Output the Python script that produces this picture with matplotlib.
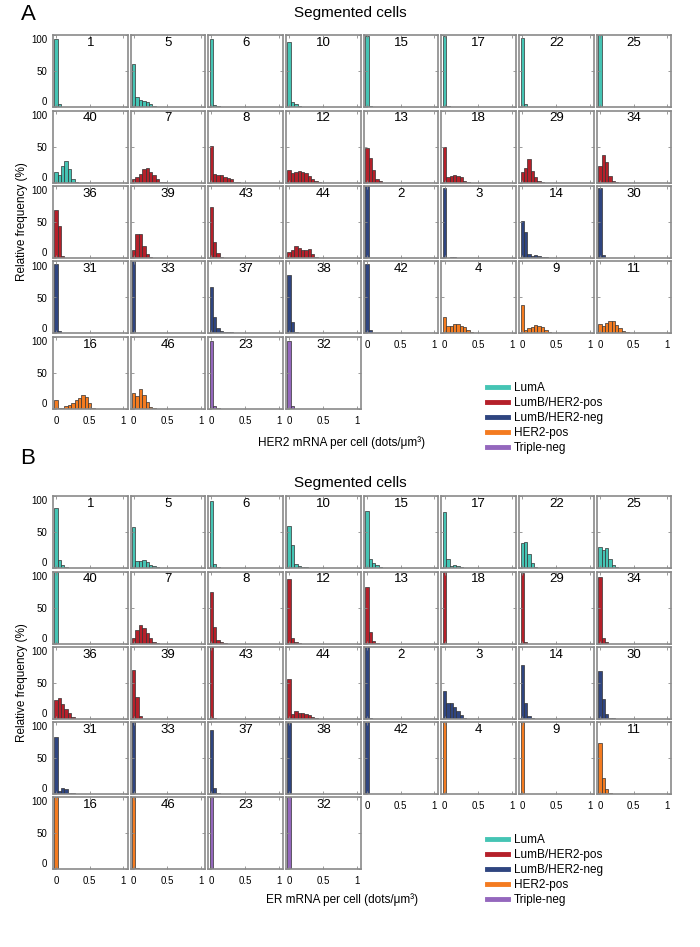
import numpy as np
import matplotlib
matplotlib.use("Agg")
import matplotlib.pyplot as plt
from matplotlib.lines import Line2D

plt.rcParams['font.family'] = ['Liberation Sans', 'DejaVu Sans']

# patient ids in panel order (same order for both blocks)
patient_ids = [1, 5, 6, 10, 15, 17, 22, 25,
               40, 7, 8, 12, 13, 18, 29, 34,
               36, 39, 43, 44, 2, 3, 14, 30,
               31, 33, 37, 38, 42, 4, 9, 11,
               16, 46, 23, 32]
subtypes = (['LumA'] * 9 + ['LumB/HER2-pos'] * 11 + ['LumB/HER2-neg'] * 9
            + ['HER2-pos'] * 5 + ['Triple-neg'] * 2)
subtype_names = ['LumA', 'LumB/HER2-pos', 'LumB/HER2-neg', 'HER2-pos', 'Triple-neg']
subtype_colors = ['#45c4b4', '#b5202a', '#2f4580', '#f47b20', '#9467bd']

# relative frequency (%) per 0.05 bin, starting at 0
her2_hist = [
    [95, 4.6], [60, 14, 10, 9, 7, 4, 1.4, 0.5], [95, 3, 1], [90, 7, 3.7, 2, 0.5],
    [98, 1, 0.3], [98.6, 1.4], [96, 3.7], [100, 0.5],
    [14, 10, 23, 30, 19, 5, 0.5], [4.6, 7, 11.5, 19, 20, 15, 10, 5, 1, 0.5],
    [51, 12, 11, 10, 8, 6.4, 4.6, 1, 0.5], [17, 13, 14.7, 16.5, 15, 13, 9.6, 5.5, 2.3, 1],
    [48, 34, 17.4, 5, 1.4], [50, 7, 9.6, 11, 9.6, 7, 1.4, 0.5],
    [14, 20.6, 32, 16, 7, 2.3, 0.5], [23, 37.6, 29, 9, 2.3, 0.5],
    [66, 44, 3, 0.5], [10.6, 33, 34, 16, 6, 2, 0.5], [71, 22.6, 7, 2, 0.5],
    [9, 11.5, 16, 14, 11.5, 10.6, 12, 6, 1.4],
    [100, 0.5], [97, 0.5, 1.4, 2], [52, 36, 6, 2.8, 3.7, 2.3, 1.4, 1], [97, 4.6, 0.5],
    [97, 3.7, 1], [100], [64, 22.6, 7, 3.7, 2.3, 1.8, 1.4, 1, 0.5], [81, 16, 1.8, 0.5],
    [97, 4.6, 1], [22.6, 11, 11, 13.4, 13.4, 10.6, 9.2, 4.6, 2.3, 1, 0.5],
    [40, 4.6, 7.8, 9.2, 12.4, 11, 8.7, 5.5, 1.8, 1, 0.5],
    [13, 10, 14.7, 18, 18, 12, 8, 3.2, 1.4, 0.5],
    [13, 1, 2, 4, 5.5, 8, 12, 15, 20, 17, 9, 2, 0.5], [22, 18.4, 28, 19.8, 9.2, 2.3, 1],
    [95, 4, 1], [95, 3.7, 0.5],
]
er_hist = [
    [84, 10.6, 4.6, 1.4, 0.5], [57, 10, 9.6, 11.5, 8, 4.6, 2.3, 1], [92.7, 5.5, 1, 0.5],
    [58, 32, 6, 3.2, 1.4, 1],
    [79, 12.4, 7, 4, 1.4], [78, 12.8, 2.3, 4, 2.8, 1.4, 0.5],
    [35, 36.7, 20, 6.4, 1.8, 0.5], [29, 25, 28, 12.8, 4.6, 1.4, 0.5],
    [100], [8, 19, 26, 22, 14, 7, 2.7, 1], [71, 23, 5.5, 1.4, 0.5], [90, 7, 1.8, 0.5],
    [78, 16, 4, 1], [100], [98, 1.4], [92, 7, 1.8],
    [27, 28.7, 21, 14, 9, 2.8, 0.5], [68, 30, 4.2, 0.5], [100, 1],
    [55.6, 6.5, 10.6, 9, 8, 6.5, 5, 3, 1],
    [100, 1], [39, 21.8, 22.7, 17, 11, 5.5, 1], [75, 21.8, 4.6, 1], [66, 28, 7, 1.8, 1],
    [79, 4.6, 8, 7, 1.8, 1, 0.5], [100], [89, 9, 1.4], [98, 0.5],
    [100], [100], [100], [71, 22, 6.4, 1.8, 0.5],
    [100], [100, 1], [100], [100],
]

W, H = 700, 947
col_left = [53 + 77.7 * i for i in range(8)]
rows_a = [35, 110.5, 186, 261.5, 337]
rows_b = [496, 571.5, 647, 722, 797]
pw, ph = 74.5, 72

frame_col = '#8a8a8a'


def px_axes(fig, x, y, w, h):
    return fig.add_axes([x / W, 1 - (y + h) / H, w / W, h / H])


def draw_block(fig, hists, rows, xlabel, title_y, letter, letter_y, xlabel_y, leg_y):
    for k, hist in enumerate(hists):
        r, c = divmod(k, 8)
        ax = px_axes(fig, col_left[c], rows[r], pw, ph)
        color = subtype_colors[subtype_names.index(subtypes[k])]
        centers = np.arange(len(hist)) * 0.05
        ax.bar(centers, hist, width=0.05, color=color, edgecolor='#333333', linewidth=0.5)
        ax.set_xlim(-0.045, 1.06)
        ax.set_ylim(0, 100)
        ax.set_xticks([0, 0.5, 1])
        ax.set_yticks([0, 50, 100])
        ax.tick_params(direction='in', length=2, width=0.6, color=frame_col,
                       labelsize=7, top=True, right=True)
        ax.tick_params(axis='x', pad=5)
        ax.tick_params(axis='y', pad=4)
        for s in ax.spines.values():
            s.set_color(frame_col)
            s.set_linewidth(1.2)
        bottom = (r == 4) or (r == 3 and c >= 4)
        ax.set_xticklabels(['0', '0.5', '1'] if bottom else [])
        if c == 0:
            labs = ax.set_yticklabels(['0', '50', '100'])
            labs[0].set_va('bottom')
            labs[2].set_va('top')
        else:
            ax.set_yticklabels([])
        ax.text(0.5, 0.89, str(patient_ids[k]), transform=ax.transAxes,
                ha='center', va='center', fontsize=9.5)
    fig.text(350 / W, 1 - title_y / H, 'Segmented cells', ha='center', va='center', fontsize=11)
    fig.text(28 / W, 1 - letter_y / H, letter, ha='center', va='center', fontsize=16)
    fig.text(342 / W, 1 - xlabel_y / H, xlabel, ha='center', va='center', fontsize=8.5)
    mid = (rows[0] + rows[4] + ph) / 2
    fig.text(22 / W, 1 - mid / H, 'Relative frequency (%)', rotation=90,
             ha='center', va='center', fontsize=8.5)
    handles = [Line2D([], [], color=cl, lw=3.5) for cl in subtype_colors]
    fig.legend(handles, subtype_names, loc='upper left',
               bbox_to_anchor=(481 / W, 1 - leg_y / H), frameon=False,
               fontsize=8.5, handlelength=1.8, handletextpad=0.5, labelspacing=0.26,
               borderpad=0)


fig = plt.figure(figsize=(7, 9.47), dpi=100)
draw_block(fig, her2_hist, rows_a, 'HER2 mRNA per cell (dots/μm³)', 13, 'A', 15, 443, 376)
draw_block(fig, er_hist, rows_b, 'ER mRNA per cell (dots/μm³)', 483, 'B', 458, 900, 828)
fig.savefig('out.png', dpi=100)
